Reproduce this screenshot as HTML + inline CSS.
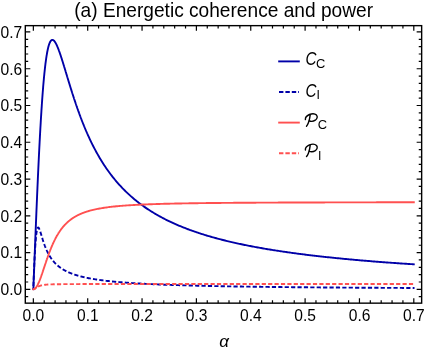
<!DOCTYPE html>
<html><head><meta charset="utf-8"><title>chart</title>
<style>
html,body{margin:0;padding:0;background:#fff;}
svg{display:block;font-family:"Liberation Sans",sans-serif;will-change:transform;}
</style></head><body>
<svg width="425" height="351" viewBox="0 0 425 351">
<rect width="425" height="351" fill="#fff"/>
<g fill="none" stroke-linejoin="round">
<path d="M33.35,289.20 L33.49,285.70 L33.62,282.19 L33.76,278.69 L33.89,275.19 L34.03,271.69 L34.17,268.19 L34.30,264.70 L34.44,261.22 L34.58,257.74 L34.71,254.27 L34.85,250.81 L34.98,247.35 L35.12,243.91 L35.26,240.48 L35.39,237.07 L35.53,233.66 L35.67,230.28 L35.80,226.90 L35.94,223.55 L36.07,220.21 L36.21,216.89 L36.35,213.59 L36.48,210.31 L36.62,207.06 L36.76,203.82 L36.89,200.61 L37.03,197.42 L37.16,194.26 L37.30,191.12 L37.44,188.01 L37.57,184.92 L37.71,181.86 L37.85,178.83 L37.98,175.83 L38.12,172.86 L38.25,169.92 L38.39,167.01 L38.53,164.12 L38.66,161.28 L38.80,158.46 L38.93,155.67 L39.07,152.92 L39.21,150.21 L39.34,147.52 L39.48,144.87 L39.62,142.26 L39.75,139.67 L39.89,137.13 L40.02,134.62 L40.16,132.14 L40.30,129.71 L40.43,127.30 L40.57,124.94 L40.71,122.61 L40.84,120.31 L40.98,118.06 L41.11,115.84 L41.25,113.65 L41.39,111.50 L41.52,109.39 L41.66,107.32 L41.80,105.28 L41.93,103.29 L42.07,101.32 L42.20,99.40 L42.34,97.51 L42.48,95.65 L42.61,93.84 L42.75,92.05 L42.89,90.31 L43.02,88.60 L43.16,86.93 L43.29,85.29 L43.43,83.69 L43.57,82.12 L43.70,80.59 L43.84,79.09 L43.97,77.63 L44.11,76.20 L44.25,74.80 L44.38,73.44 L44.52,72.11 L44.66,70.81 L44.79,69.55 L44.93,68.32 L45.06,67.12 L45.20,65.95 L45.34,64.82 L45.47,63.71 L45.61,62.64 L45.75,61.59 L45.88,60.58 L46.02,59.59 L46.15,58.64 L46.29,57.71 L46.43,56.81 L46.56,55.94 L46.70,55.10 L46.84,54.29 L46.97,53.50 L47.11,52.74 L47.24,52.00 L47.38,51.29 L47.52,50.61 L47.65,49.95 L47.79,49.32 L47.93,48.71 L48.06,48.12 L48.20,47.56 L48.33,47.02 L48.47,46.51 L48.61,46.02 L48.74,45.54 L48.88,45.09 L49.01,44.67 L49.15,44.26 L49.29,43.87 L49.42,43.51 L49.56,43.16 L49.70,42.84 L49.83,42.53 L49.97,42.24 L50.10,41.97 L50.24,41.72 L50.38,41.49 L50.51,41.27 L50.65,41.07 L50.79,40.89 L50.92,40.72 L51.06,40.57 L51.19,40.44 L51.33,40.32 L51.47,40.22 L51.60,40.13 L51.74,40.06 L51.88,40.00 L52.01,39.96 L52.15,39.93 L52.28,39.91 L52.42,39.90 L52.56,39.91 L52.69,39.94 L52.83,39.97 L52.97,40.02 L53.10,40.07 L53.24,40.14 L53.37,40.22 L53.51,40.32 L53.65,40.42 L53.78,40.53 L53.92,40.65 L54.05,40.79 L54.19,40.93 L54.33,41.09 L54.46,41.25 L54.60,41.42 L54.74,41.60 L54.87,41.79 L55.01,41.99 L55.14,42.19 L55.28,42.41 L55.42,42.63 L55.55,42.86 L55.69,43.10 L55.83,43.35 L55.96,43.60 L56.10,43.86 L56.23,44.12 L56.37,44.40 L56.51,44.68 L56.64,44.96 L56.78,45.25 L56.92,45.55 L57.05,45.85 L57.19,46.16 L57.32,46.48 L57.46,46.80 L57.60,47.12 L57.73,47.45 L57.87,47.79 L58.01,48.13 L58.14,48.47 L58.28,48.82 L58.41,49.17 L58.55,49.53 L58.69,49.89 L58.82,50.26 L58.96,50.63 L59.09,51.00 L59.23,51.38 L59.37,51.76 L59.50,52.14 L59.64,52.53 L59.78,52.92 L59.91,53.31 L60.05,53.71 L60.18,54.10 L60.32,54.51 L60.46,54.91 L60.59,55.32 L60.73,55.73 L60.87,56.14 L61.00,56.55 L61.14,56.97 L61.27,57.39 L61.41,57.81 L61.55,58.23 L61.68,58.65 L61.82,59.08 L61.96,59.51 L62.09,59.94 L62.23,60.37 L62.36,60.80 L62.50,61.23 L62.64,61.67 L62.77,62.10 L62.91,62.54 L63.04,62.98 L63.18,63.42 L63.32,63.86 L63.45,64.30 L63.59,64.75 L63.73,65.19 L63.86,65.63 L64.00,66.08 L64.13,66.53 L64.27,66.97 L64.41,67.42 L64.54,67.87 L64.68,68.32 L64.82,68.77 L64.95,69.21 L65.09,69.66 L65.22,70.11 L65.36,70.56 L65.50,71.01 L65.63,71.47 L65.77,71.92 L65.91,72.37 L66.04,72.82 L66.18,73.27 L66.31,73.72 L66.45,74.17 L66.59,74.62 L66.72,75.07 L66.86,75.52 L67.00,75.97 L67.13,76.43 L67.27,76.88 L67.40,77.33 L67.54,77.77 L67.68,78.22 L67.81,78.67 L67.95,79.12 L68.08,79.57 L68.22,80.02 L68.36,80.47 L68.49,80.91 L68.63,81.36 L68.77,81.81 L68.90,82.25 L69.04,82.70 L69.17,83.14 L69.31,83.58 L69.45,84.03 L69.58,84.47 L69.72,84.91 L69.86,85.35 L69.99,85.79 L70.13,86.23 L70.26,86.67 L70.40,87.11 L70.54,87.55 L70.67,87.98 L70.81,88.42 L70.95,88.86 L71.08,89.29 L71.22,89.72 L71.35,90.16 L71.49,90.59 L71.63,91.02 L71.76,91.45 L71.90,91.88 L72.04,92.31 L72.17,92.74 L72.31,93.16 L72.44,93.59 L72.58,94.01 L72.72,94.44 L72.85,94.86 L72.99,95.28 L73.12,95.70 L73.26,96.12 L73.40,96.54 L73.53,96.96 L73.67,97.38 L73.81,97.79 L73.94,98.21 L74.08,98.62 L74.21,99.04 L74.35,99.45 L74.49,99.86 L74.62,100.27 L74.76,100.68 L74.90,101.09 L75.03,101.49 L75.17,101.90 L75.30,102.30 L75.44,102.71 L75.58,103.11 L75.71,103.51 L75.85,103.91 L75.99,104.31 L76.12,104.71 L76.26,105.10 L76.39,105.50 L76.53,105.90 L76.67,106.29 L76.80,106.68 L76.94,107.07 L77.08,107.46 L77.21,107.85 L77.35,108.24 L77.48,108.63 L77.62,109.01 L77.76,109.40 L77.89,109.78 L78.03,110.17 L78.16,110.55 L78.30,110.93 L78.44,111.31 L78.57,111.69 L78.71,112.06 L78.85,112.44 L78.98,112.81 L79.12,113.19 L79.25,113.56 L79.39,113.93 L79.53,114.30 L79.66,114.67 L79.80,115.04 L79.94,115.41 L80.07,115.77 L80.21,116.14 L80.34,116.50 L80.48,116.86 L80.62,117.22 L80.75,117.58 L80.89,117.94 L81.03,118.30 L81.16,118.66 L81.30,119.01 L81.43,119.37 L81.57,119.72 L81.71,120.07 L81.84,120.43 L81.98,120.78 L82.12,121.13 L82.25,121.47 L82.39,121.82 L82.52,122.17 L82.66,122.51 L82.80,122.85 L82.93,123.20 L83.07,123.54 L83.20,123.88 L83.34,124.22 L83.48,124.56 L83.61,124.89 L83.75,125.23 L83.89,125.57 L84.02,125.90 L84.16,126.23 L84.29,126.56 L84.43,126.89 L84.57,127.22 L84.70,127.55 L84.84,127.88 L84.98,128.21 L85.11,128.53 L85.25,128.86 L85.38,129.18 L85.52,129.50 L85.66,129.82 L85.79,130.14 L85.93,130.46 L86.07,130.78 L86.20,131.10 L86.34,131.41 L86.47,131.73 L86.61,132.04 L86.75,132.36 L86.88,132.67 L87.02,132.98 L87.16,133.29 L87.29,133.60 L87.43,133.91 L87.56,134.21 L87.70,134.52 L88.79,136.93 L89.88,139.29 L90.97,141.58 L92.06,143.81 L93.15,145.98 L94.24,148.10 L95.33,150.17 L96.43,152.18 L97.52,154.14 L98.61,156.06 L99.70,157.92 L100.79,159.74 L101.88,161.51 L102.97,163.24 L104.06,164.93 L105.15,166.58 L106.24,168.18 L107.33,169.75 L108.42,171.28 L109.51,172.78 L110.60,174.24 L111.69,175.67 L112.78,177.06 L113.88,178.42 L114.97,179.75 L116.06,181.06 L117.15,182.33 L118.24,183.57 L119.33,184.79 L120.42,185.98 L121.51,187.15 L122.60,188.29 L123.69,189.41 L124.78,190.50 L125.87,191.57 L126.96,192.62 L128.05,193.65 L129.14,194.66 L130.23,195.64 L131.33,196.61 L132.42,197.56 L133.51,198.49 L134.60,199.40 L135.69,200.29 L136.78,201.17 L137.87,202.03 L138.96,202.88 L140.05,203.70 L141.14,204.52 L142.23,205.32 L143.32,206.10 L144.41,206.87 L145.50,207.63 L146.59,208.37 L147.68,209.10 L148.78,209.81 L149.87,210.52 L150.96,211.21 L152.05,211.89 L153.14,212.56 L154.23,213.22 L155.32,213.87 L156.41,214.50 L157.50,215.13 L158.59,215.74 L159.68,216.35 L160.77,216.94 L161.86,217.53 L162.95,218.11 L164.04,218.67 L165.14,219.23 L166.23,219.78 L167.32,220.33 L168.41,220.86 L169.50,221.39 L170.59,221.90 L171.68,222.41 L172.77,222.91 L173.86,223.41 L174.95,223.90 L176.04,224.38 L177.13,224.85 L178.22,225.32 L179.31,225.78 L180.40,226.23 L181.49,226.68 L182.59,227.12 L183.68,227.56 L184.77,227.99 L185.86,228.41 L186.95,228.83 L188.04,229.24 L189.13,229.64 L190.22,230.04 L191.31,230.44 L192.40,230.83 L193.49,231.21 L194.58,231.59 L195.67,231.97 L196.76,232.34 L197.85,232.71 L198.94,233.07 L200.04,233.42 L201.13,233.78 L202.22,234.12 L203.31,234.47 L204.40,234.81 L205.49,235.14 L206.58,235.47 L207.67,235.80 L208.76,236.12 L209.85,236.44 L210.94,236.75 L212.03,237.07 L213.12,237.37 L214.21,237.68 L215.30,237.98 L216.39,238.28 L217.49,238.57 L218.58,238.86 L219.67,239.15 L220.76,239.43 L221.85,239.71 L222.94,239.99 L224.03,240.26 L225.12,240.53 L226.21,240.80 L227.30,241.07 L228.39,241.33 L229.48,241.59 L230.57,241.85 L231.66,242.10 L232.75,242.35 L233.85,242.60 L234.94,242.85 L236.03,243.09 L237.12,243.33 L238.21,243.57 L239.30,243.81 L240.39,244.04 L241.48,244.27 L242.57,244.50 L243.66,244.73 L244.75,244.95 L245.84,245.17 L246.93,245.39 L248.02,245.61 L249.11,245.83 L250.20,246.04 L251.30,246.25 L252.39,246.46 L253.48,246.67 L254.57,246.87 L255.66,247.08 L256.75,247.28 L257.84,247.48 L258.93,247.67 L260.02,247.87 L261.11,248.06 L262.20,248.25 L263.29,248.44 L264.38,248.63 L265.47,248.82 L266.56,249.00 L267.65,249.19 L268.75,249.37 L269.84,249.55 L270.93,249.73 L272.02,249.90 L273.11,250.08 L274.20,250.25 L275.29,250.42 L276.38,250.59 L277.47,250.76 L278.56,250.93 L279.65,251.10 L280.74,251.26 L281.83,251.42 L282.92,251.59 L284.01,251.75 L285.11,251.90 L286.20,252.06 L287.29,252.22 L288.38,252.37 L289.47,252.53 L290.56,252.68 L291.65,252.83 L292.74,252.98 L293.83,253.13 L294.92,253.28 L296.01,253.42 L297.10,253.57 L298.19,253.71 L299.28,253.85 L300.37,254.00 L301.46,254.14 L302.56,254.27 L303.65,254.41 L304.74,254.55 L305.83,254.69 L306.92,254.82 L308.01,254.95 L309.10,255.09 L310.19,255.22 L311.28,255.35 L312.37,255.48 L313.46,255.61 L314.55,255.74 L315.64,255.86 L316.73,255.99 L317.82,256.11 L318.91,256.24 L320.01,256.36 L321.10,256.48 L322.19,256.60 L323.28,256.72 L324.37,256.84 L325.46,256.96 L326.55,257.08 L327.64,257.19 L328.73,257.31 L329.82,257.43 L330.91,257.54 L332.00,257.65 L333.09,257.77 L334.18,257.88 L335.27,257.99 L336.36,258.10 L337.46,258.21 L338.55,258.32 L339.64,258.42 L340.73,258.53 L341.82,258.64 L342.91,258.74 L344.00,258.85 L345.09,258.95 L346.18,259.06 L347.27,259.16 L348.36,259.26 L349.45,259.36 L350.54,259.46 L351.63,259.56 L352.72,259.66 L353.82,259.76 L354.91,259.86 L356.00,259.95 L357.09,260.05 L358.18,260.15 L359.27,260.24 L360.36,260.34 L361.45,260.43 L362.54,260.52 L363.63,260.62 L364.72,260.71 L365.81,260.80 L366.90,260.89 L367.99,260.98 L369.08,261.07 L370.17,261.16 L371.27,261.25 L372.36,261.34 L373.45,261.43 L374.54,261.51 L375.63,261.60 L376.72,261.68 L377.81,261.77 L378.90,261.85 L379.99,261.94 L381.08,262.02 L382.17,262.11 L383.26,262.19 L384.35,262.27 L385.44,262.35 L386.53,262.43 L387.62,262.51 L388.72,262.60 L389.81,262.67 L390.90,262.75 L391.99,262.83 L393.08,262.91 L394.17,262.99 L395.26,263.07 L396.35,263.14 L397.44,263.22 L398.53,263.30 L399.62,263.37 L400.71,263.45 L401.80,263.52 L402.89,263.60 L403.98,263.67 L405.07,263.74 L406.17,263.82 L407.26,263.89 L408.35,263.96 L409.44,264.03 L410.53,264.10 L411.62,264.17 L412.71,264.24 L413.80,264.31" stroke="#0000a8" stroke-width="1.9" stroke-linecap="square"/>
<path d="M33.35,289.20 L33.49,284.12 L33.62,280.26 L33.76,276.73 L33.89,273.40 L34.03,270.22 L34.17,267.16 L34.30,264.21 L34.44,261.37 L34.58,258.64 L34.71,256.02 L34.85,253.51 L34.98,251.12 L35.12,248.84 L35.26,246.69 L35.39,244.65 L35.53,242.75 L35.67,240.96 L35.80,239.31 L35.94,237.78 L36.07,236.37 L36.21,235.08 L36.35,233.91 L36.48,232.86 L36.62,231.91 L36.76,231.08 L36.89,230.34 L37.03,229.71 L37.16,229.16 L37.30,228.71 L37.44,228.33 L37.57,228.04 L37.71,227.82 L37.85,227.66 L37.98,227.56 L38.12,227.53 L38.25,227.54 L38.39,227.61 L38.53,227.72 L38.66,227.87 L38.80,228.06 L38.93,228.28 L39.07,228.53 L39.21,228.81 L39.34,229.12 L39.48,229.44 L39.62,229.79 L39.75,230.15 L39.89,230.53 L40.02,230.92 L40.16,231.32 L40.30,231.73 L40.43,232.16 L40.57,232.58 L40.71,233.02 L40.84,233.46 L40.98,233.90 L41.11,234.34 L41.25,234.79 L41.39,235.24 L41.52,235.69 L41.66,236.14 L41.80,236.58 L41.93,237.03 L42.07,237.48 L42.20,237.92 L42.34,238.36 L42.48,238.79 L42.61,239.23 L42.75,239.66 L42.89,240.09 L43.02,240.51 L43.16,240.93 L43.29,241.34 L43.43,241.76 L43.57,242.16 L43.70,242.56 L43.84,242.96 L43.97,243.36 L44.11,243.74 L44.25,244.13 L44.38,244.51 L44.52,244.88 L44.66,245.25 L44.79,245.62 L44.93,245.98 L45.06,246.34 L45.20,246.69 L45.34,247.04 L45.47,247.38 L45.61,247.72 L45.75,248.05 L45.88,248.38 L46.02,248.70 L46.15,249.03 L46.29,249.34 L46.43,249.65 L46.56,249.96 L46.70,250.27 L46.84,250.57 L46.97,250.86 L47.11,251.15 L47.24,251.44 L47.38,251.73 L47.52,252.01 L47.65,252.28 L47.79,252.56 L47.93,252.82 L48.06,253.09 L48.20,253.35 L48.33,253.61 L48.47,253.87 L48.61,254.12 L48.74,254.37 L48.88,254.61 L49.01,254.86 L49.15,255.09 L49.29,255.33 L49.42,255.56 L49.56,255.79 L49.70,256.02 L49.83,256.25 L49.97,256.47 L50.10,256.69 L50.24,256.90 L50.38,257.11 L50.51,257.32 L50.65,257.53 L50.79,257.74 L50.92,257.94 L51.06,258.14 L51.19,258.34 L51.33,258.53 L51.47,258.73 L51.60,258.92 L51.74,259.11 L51.88,259.29 L52.01,259.48 L52.15,259.66 L52.28,259.84 L52.42,260.02 L52.56,260.19 L52.69,260.37 L52.83,260.54 L52.97,260.71 L53.10,260.88 L53.24,261.04 L53.37,261.21 L53.51,261.37 L53.65,261.53 L53.78,261.69 L53.92,261.84 L54.05,262.00 L54.19,262.15 L54.33,262.30 L54.46,262.45 L54.60,262.60 L54.74,262.75 L54.87,262.89 L55.01,263.04 L55.14,263.18 L55.28,263.32 L55.42,263.46 L55.55,263.60 L55.69,263.73 L55.83,263.87 L55.96,264.00 L56.10,264.13 L56.23,264.26 L56.37,264.39 L56.51,264.52 L56.64,264.65 L56.78,264.77 L56.92,264.90 L57.05,265.02 L57.19,265.14 L57.32,265.26 L57.46,265.38 L57.60,265.50 L57.73,265.62 L57.87,265.73 L58.01,265.85 L58.14,265.96 L58.28,266.07 L58.41,266.18 L58.55,266.29 L58.69,266.40 L58.82,266.51 L58.96,266.62 L59.09,266.73 L59.23,266.83 L59.37,266.94 L59.50,267.04 L59.64,267.14 L59.78,267.24 L59.91,267.34 L60.05,267.44 L60.18,267.54 L60.32,267.64 L60.46,267.74 L60.59,267.83 L60.73,267.93 L60.87,268.02 L61.00,268.12 L61.14,268.21 L61.27,268.30 L61.41,268.39 L61.55,268.48 L61.68,268.57 L61.82,268.66 L61.96,268.75 L62.09,268.84 L62.23,268.93 L62.36,269.01 L62.50,269.10 L62.64,269.18 L62.77,269.27 L62.91,269.35 L63.04,269.43 L63.18,269.51 L63.32,269.59 L63.45,269.68 L63.59,269.76 L63.73,269.83 L63.86,269.91 L64.00,269.99 L64.13,270.07 L64.27,270.15 L64.41,270.22 L64.54,270.30 L64.68,270.37 L64.82,270.45 L64.95,270.52 L65.09,270.59 L65.22,270.67 L65.36,270.74 L65.50,270.81 L65.63,270.88 L65.77,270.95 L65.91,271.02 L66.04,271.09 L66.18,271.16 L66.31,271.23 L66.45,271.30 L66.59,271.36 L66.72,271.43 L66.86,271.50 L67.00,271.56 L67.13,271.63 L67.27,271.69 L67.40,271.76 L67.54,271.82 L67.68,271.88 L67.81,271.95 L67.95,272.01 L68.08,272.07 L68.22,272.13 L68.36,272.20 L68.49,272.26 L68.63,272.32 L68.77,272.38 L68.90,272.44 L69.04,272.50 L69.17,272.55 L69.31,272.61 L69.45,272.67 L69.58,272.73 L69.72,272.79 L69.86,272.84 L69.99,272.90 L70.13,272.96 L70.26,273.01 L70.40,273.07 L70.54,273.12 L70.67,273.18 L70.81,273.23 L70.95,273.28 L71.08,273.34 L71.22,273.39 L71.35,273.44 L71.49,273.50 L71.63,273.55 L71.76,273.60 L71.90,273.65 L72.04,273.70 L72.17,273.75 L72.31,273.80 L72.44,273.85 L72.58,273.90 L72.72,273.95 L72.85,274.00 L72.99,274.05 L73.12,274.10 L73.26,274.15 L73.40,274.20 L73.53,274.24 L73.67,274.29 L73.81,274.34 L73.94,274.38 L74.08,274.43 L74.21,274.48 L74.35,274.52 L74.49,274.57 L74.62,274.61 L74.76,274.66 L74.90,274.70 L75.03,274.75 L75.17,274.79 L75.30,274.84 L75.44,274.88 L75.58,274.92 L75.71,274.97 L75.85,275.01 L75.99,275.05 L76.12,275.10 L76.26,275.14 L76.39,275.18 L76.53,275.22 L76.67,275.26 L76.80,275.31 L76.94,275.35 L77.08,275.39 L77.21,275.43 L77.35,275.47 L77.48,275.51 L77.62,275.55 L77.76,275.59 L77.89,275.63 L78.03,275.67 L78.16,275.71 L78.30,275.74 L78.44,275.78 L78.57,275.82 L78.71,275.86 L78.85,275.90 L78.98,275.94 L79.12,275.97 L79.25,276.01 L79.39,276.05 L79.53,276.08 L79.66,276.12 L79.80,276.16 L79.94,276.19 L80.07,276.23 L80.21,276.27 L80.34,276.30 L80.48,276.34 L80.62,276.37 L80.75,276.41 L80.89,276.44 L81.03,276.48 L81.16,276.51 L81.30,276.55 L81.43,276.58 L81.57,276.62 L81.71,276.65 L81.84,276.68 L81.98,276.72 L82.12,276.75 L82.25,276.78 L82.39,276.82 L82.52,276.85 L82.66,276.88 L82.80,276.91 L82.93,276.95 L83.07,276.98 L83.20,277.01 L83.34,277.04 L83.48,277.07 L83.61,277.11 L83.75,277.14 L83.89,277.17 L84.02,277.20 L84.16,277.23 L84.29,277.26 L84.43,277.29 L84.57,277.32 L84.70,277.35 L84.84,277.38 L84.98,277.41 L85.11,277.44 L85.25,277.47 L85.38,277.50 L85.52,277.53 L85.66,277.56 L85.79,277.59 L85.93,277.62 L86.07,277.65 L86.20,277.68 L86.34,277.71 L86.47,277.74 L86.61,277.76 L86.75,277.79 L86.88,277.82 L87.02,277.85 L87.16,277.88 L87.29,277.90 L87.43,277.93 L87.56,277.96 L87.70,277.99 L88.79,278.20 L89.89,278.41 L90.98,278.61 L92.07,278.80 L93.16,278.99 L94.26,279.17 L95.35,279.34 L96.44,279.51 L97.54,279.67 L98.63,279.83 L99.72,279.99 L100.82,280.13 L101.91,280.28 L103.00,280.42 L104.09,280.56 L105.19,280.69 L106.28,280.82 L107.37,280.94 L108.47,281.06 L109.56,281.18 L110.65,281.30 L111.75,281.41 L112.84,281.52 L113.93,281.62 L115.02,281.73 L116.12,281.83 L117.21,281.93 L118.30,282.02 L119.40,282.12 L120.49,282.21 L121.58,282.30 L122.68,282.39 L123.77,282.47 L124.86,282.56 L125.95,282.64 L127.05,282.72 L128.14,282.80 L129.23,282.87 L130.33,282.95 L131.42,283.02 L132.51,283.09 L133.61,283.16 L134.70,283.23 L135.79,283.30 L136.88,283.37 L137.98,283.43 L139.07,283.50 L140.16,283.56 L141.26,283.62 L142.35,283.68 L143.44,283.74 L144.54,283.80 L145.63,283.85 L146.72,283.91 L147.81,283.96 L148.91,284.02 L150.00,284.07 L151.09,284.12 L152.19,284.17 L153.28,284.22 L154.37,284.27 L155.47,284.32 L156.56,284.37 L157.65,284.41 L158.74,284.46 L159.84,284.50 L160.93,284.55 L162.02,284.59 L163.12,284.63 L164.21,284.68 L165.30,284.72 L166.40,284.76 L167.49,284.80 L168.58,284.84 L169.67,284.88 L170.77,284.92 L171.86,284.95 L172.95,284.99 L174.05,285.03 L175.14,285.06 L176.23,285.10 L177.33,285.13 L178.42,285.17 L179.51,285.20 L180.60,285.24 L181.70,285.27 L182.79,285.30 L183.88,285.33 L184.98,285.37 L186.07,285.40 L187.16,285.43 L188.26,285.46 L189.35,285.49 L190.44,285.52 L191.53,285.55 L192.63,285.58 L193.72,285.60 L194.81,285.63 L195.91,285.66 L197.00,285.69 L198.09,285.71 L199.19,285.74 L200.28,285.77 L201.37,285.79 L202.46,285.82 L203.56,285.84 L204.65,285.87 L205.74,285.89 L206.84,285.92 L207.93,285.94 L209.02,285.97 L210.12,285.99 L211.21,286.01 L212.30,286.03 L213.39,286.06 L214.49,286.08 L215.58,286.10 L216.67,286.12 L217.77,286.14 L218.86,286.17 L219.95,286.19 L221.05,286.21 L222.14,286.23 L223.23,286.25 L224.32,286.27 L225.42,286.29 L226.51,286.31 L227.60,286.33 L228.70,286.35 L229.79,286.37 L230.88,286.38 L231.98,286.40 L233.07,286.42 L234.16,286.44 L235.25,286.46 L236.35,286.47 L237.44,286.49 L238.53,286.51 L239.63,286.53 L240.72,286.54 L241.81,286.56 L242.91,286.58 L244.00,286.59 L245.09,286.61 L246.18,286.63 L247.28,286.64 L248.37,286.66 L249.46,286.67 L250.56,286.69 L251.65,286.70 L252.74,286.72 L253.84,286.73 L254.93,286.75 L256.02,286.76 L257.11,286.78 L258.21,286.79 L259.30,286.81 L260.39,286.82 L261.49,286.84 L262.58,286.85 L263.67,286.86 L264.77,286.88 L265.86,286.89 L266.95,286.90 L268.04,286.92 L269.14,286.93 L270.23,286.94 L271.32,286.96 L272.42,286.97 L273.51,286.98 L274.60,286.99 L275.70,287.01 L276.79,287.02 L277.88,287.03 L278.97,287.04 L280.07,287.05 L281.16,287.07 L282.25,287.08 L283.35,287.09 L284.44,287.10 L285.53,287.11 L286.63,287.12 L287.72,287.13 L288.81,287.15 L289.90,287.16 L291.00,287.17 L292.09,287.18 L293.18,287.19 L294.28,287.20 L295.37,287.21 L296.46,287.22 L297.56,287.23 L298.65,287.24 L299.74,287.25 L300.83,287.26 L301.93,287.27 L303.02,287.28 L304.11,287.29 L305.21,287.30 L306.30,287.31 L307.39,287.32 L308.49,287.33 L309.58,287.34 L310.67,287.35 L311.76,287.36 L312.86,287.37 L313.95,287.38 L315.04,287.39 L316.14,287.39 L317.23,287.40 L318.32,287.41 L319.42,287.42 L320.51,287.43 L321.60,287.44 L322.69,287.45 L323.79,287.46 L324.88,287.46 L325.97,287.47 L327.07,287.48 L328.16,287.49 L329.25,287.50 L330.35,287.50 L331.44,287.51 L332.53,287.52 L333.62,287.53 L334.72,287.54 L335.81,287.54 L336.90,287.55 L338.00,287.56 L339.09,287.57 L340.18,287.58 L341.28,287.58 L342.37,287.59 L343.46,287.60 L344.55,287.60 L345.65,287.61 L346.74,287.62 L347.83,287.63 L348.93,287.63 L350.02,287.64 L351.11,287.65 L352.21,287.65 L353.30,287.66 L354.39,287.67 L355.48,287.68 L356.58,287.68 L357.67,287.69 L358.76,287.70 L359.86,287.70 L360.95,287.71 L362.04,287.72 L363.14,287.72 L364.23,287.73 L365.32,287.73 L366.41,287.74 L367.51,287.75 L368.60,287.75 L369.69,287.76 L370.79,287.77 L371.88,287.77 L372.97,287.78 L374.07,287.78 L375.16,287.79 L376.25,287.80 L377.34,287.80 L378.44,287.81 L379.53,287.81 L380.62,287.82 L381.72,287.83 L382.81,287.83 L383.90,287.84 L385.00,287.84 L386.09,287.85 L387.18,287.85 L388.27,287.86 L389.37,287.86 L390.46,287.87 L391.55,287.88 L392.65,287.88 L393.74,287.89 L394.83,287.89 L395.93,287.90 L397.02,287.90 L398.11,287.91 L399.20,287.91 L400.30,287.92 L401.39,287.92 L402.48,287.93 L403.58,287.93 L404.67,287.94 L405.76,287.94 L406.86,287.95 L407.95,287.95 L409.04,287.96 L410.13,287.96 L411.23,287.97 L412.32,287.97 L413.41,287.98 L414.51,287.98" stroke="#0000a8" stroke-width="1.9" stroke-dasharray="4.2 2.2" stroke-dashoffset="3.3"/>
<path d="M33.35,289.20 L33.49,289.20 L33.62,289.18 L33.76,289.16 L33.89,289.13 L34.03,289.09 L34.17,289.03 L34.30,288.98 L34.44,288.91 L34.58,288.83 L34.71,288.74 L34.85,288.65 L34.98,288.54 L35.12,288.43 L35.26,288.31 L35.39,288.18 L35.53,288.04 L35.67,287.89 L35.80,287.73 L35.94,287.57 L36.07,287.40 L36.21,287.22 L36.35,287.03 L36.48,286.83 L36.62,286.63 L36.76,286.42 L36.89,286.20 L37.03,285.97 L37.16,285.74 L37.30,285.49 L37.44,285.25 L37.57,284.99 L37.71,284.73 L37.85,284.46 L37.98,284.19 L38.12,283.90 L38.25,283.62 L38.39,283.32 L38.53,283.03 L38.66,282.72 L38.80,282.41 L38.93,282.09 L39.07,281.77 L39.21,281.45 L39.34,281.12 L39.48,280.78 L39.62,280.44 L39.75,280.10 L39.89,279.75 L40.02,279.39 L40.16,279.04 L40.30,278.68 L40.43,278.31 L40.57,277.94 L40.71,277.57 L40.84,277.20 L40.98,276.82 L41.11,276.44 L41.25,276.05 L41.39,275.67 L41.52,275.28 L41.66,274.89 L41.80,274.49 L41.93,274.10 L42.07,273.70 L42.20,273.30 L42.34,272.90 L42.48,272.50 L42.61,272.10 L42.75,271.69 L42.89,271.29 L43.02,270.88 L43.16,270.47 L43.29,270.06 L43.43,269.65 L43.57,269.24 L43.70,268.83 L43.84,268.42 L43.97,268.01 L44.11,267.60 L44.25,267.19 L44.38,266.78 L44.52,266.36 L44.66,265.95 L44.79,265.54 L44.93,265.13 L45.06,264.72 L45.20,264.31 L45.34,263.91 L45.47,263.50 L45.61,263.09 L45.75,262.69 L45.88,262.28 L46.02,261.88 L46.15,261.47 L46.29,261.07 L46.43,260.67 L46.56,260.27 L46.70,259.88 L46.84,259.48 L46.97,259.08 L47.11,258.69 L47.24,258.30 L47.38,257.91 L47.52,257.52 L47.65,257.13 L47.79,256.75 L47.93,256.36 L48.06,255.98 L48.20,255.60 L48.33,255.23 L48.47,254.85 L48.61,254.48 L48.74,254.10 L48.88,253.73 L49.01,253.37 L49.15,253.00 L49.29,252.64 L49.42,252.27 L49.56,251.91 L49.70,251.56 L49.83,251.20 L49.97,250.85 L50.10,250.50 L50.24,250.15 L50.38,249.80 L50.51,249.46 L50.65,249.12 L50.79,248.78 L50.92,248.44 L51.06,248.10 L51.19,247.77 L51.33,247.44 L51.47,247.11 L51.60,246.79 L51.74,246.46 L51.88,246.14 L52.01,245.82 L52.15,245.51 L52.28,245.19 L52.42,244.88 L52.56,244.57 L52.69,244.26 L52.83,243.96 L52.97,243.65 L53.10,243.35 L53.24,243.05 L53.37,242.76 L53.51,242.46 L53.65,242.17 L53.78,241.88 L53.92,241.59 L54.05,241.31 L54.19,241.03 L54.33,240.75 L54.46,240.47 L54.60,240.19 L54.74,239.92 L54.87,239.65 L55.01,239.38 L55.14,239.11 L55.28,238.85 L55.42,238.58 L55.55,238.32 L55.69,238.06 L55.83,237.81 L55.96,237.55 L56.10,237.30 L56.23,237.05 L56.37,236.80 L56.51,236.55 L56.64,236.31 L56.78,236.07 L56.92,235.83 L57.05,235.59 L57.19,235.35 L57.32,235.12 L57.46,234.89 L57.60,234.66 L57.73,234.43 L57.87,234.20 L58.01,233.98 L58.14,233.76 L58.28,233.54 L58.41,233.32 L58.55,233.10 L58.69,232.88 L58.82,232.67 L58.96,232.46 L59.09,232.25 L59.23,232.04 L59.37,231.84 L59.50,231.63 L59.64,231.43 L59.78,231.23 L59.91,231.03 L60.05,230.83 L60.18,230.64 L60.32,230.44 L60.46,230.25 L60.59,230.06 L60.73,229.87 L60.87,229.68 L61.00,229.50 L61.14,229.31 L61.27,229.13 L61.41,228.95 L61.55,228.77 L61.68,228.59 L61.82,228.41 L61.96,228.24 L62.09,228.06 L62.23,227.89 L62.36,227.72 L62.50,227.55 L62.64,227.38 L62.77,227.22 L62.91,227.05 L63.04,226.89 L63.18,226.73 L63.32,226.57 L63.45,226.41 L63.59,226.25 L63.73,226.09 L63.86,225.94 L64.00,225.78 L64.13,225.63 L64.27,225.48 L64.41,225.33 L64.54,225.18 L64.68,225.03 L64.82,224.89 L64.95,224.74 L65.09,224.60 L65.22,224.45 L65.36,224.31 L65.50,224.17 L65.63,224.03 L65.77,223.89 L65.91,223.76 L66.04,223.62 L66.18,223.49 L66.31,223.35 L66.45,223.22 L66.59,223.09 L66.72,222.96 L66.86,222.83 L67.00,222.70 L67.13,222.57 L67.27,222.45 L67.40,222.32 L67.54,222.20 L67.68,222.08 L67.81,221.96 L67.95,221.83 L68.08,221.71 L68.22,221.60 L68.36,221.48 L68.49,221.36 L68.63,221.25 L68.77,221.13 L68.90,221.02 L69.04,220.90 L69.17,220.79 L69.31,220.68 L69.45,220.57 L69.58,220.46 L69.72,220.35 L69.86,220.24 L69.99,220.14 L70.13,220.03 L70.26,219.92 L70.40,219.82 L70.54,219.72 L70.67,219.61 L70.81,219.51 L70.95,219.41 L71.08,219.31 L71.22,219.21 L71.35,219.11 L71.49,219.01 L71.63,218.92 L71.76,218.82 L71.90,218.73 L72.04,218.63 L72.17,218.54 L72.31,218.44 L72.44,218.35 L72.58,218.26 L72.72,218.17 L72.85,218.08 L72.99,217.99 L73.12,217.90 L73.26,217.81 L73.40,217.72 L73.53,217.64 L73.67,217.55 L73.81,217.46 L73.94,217.38 L74.08,217.29 L74.21,217.21 L74.35,217.13 L74.49,217.04 L74.62,216.96 L74.76,216.88 L74.90,216.80 L75.03,216.72 L75.17,216.64 L75.30,216.56 L75.44,216.48 L75.58,216.41 L75.71,216.33 L75.85,216.25 L75.99,216.18 L76.12,216.10 L76.26,216.03 L76.39,215.95 L76.53,215.88 L76.67,215.81 L76.80,215.73 L76.94,215.66 L77.08,215.59 L77.21,215.52 L77.35,215.45 L77.48,215.38 L77.62,215.31 L77.76,215.24 L77.89,215.17 L78.03,215.11 L78.16,215.04 L78.30,214.97 L78.44,214.90 L78.57,214.84 L78.71,214.77 L78.85,214.71 L78.98,214.64 L79.12,214.58 L79.25,214.52 L79.39,214.45 L79.53,214.39 L79.66,214.33 L79.80,214.27 L79.94,214.21 L80.07,214.14 L80.21,214.08 L80.34,214.02 L80.48,213.96 L80.62,213.90 L80.75,213.85 L80.89,213.79 L81.03,213.73 L81.16,213.67 L81.30,213.62 L81.43,213.56 L81.57,213.50 L81.71,213.45 L81.84,213.39 L81.98,213.34 L82.12,213.28 L82.25,213.23 L82.39,213.17 L82.52,213.12 L82.66,213.07 L82.80,213.01 L82.93,212.96 L83.07,212.91 L83.20,212.86 L83.34,212.80 L83.48,212.75 L83.61,212.70 L83.75,212.65 L83.89,212.60 L84.02,212.55 L84.16,212.50 L84.29,212.45 L84.43,212.40 L84.57,212.36 L84.70,212.31 L84.84,212.26 L84.98,212.21 L85.11,212.17 L85.25,212.12 L85.38,212.07 L85.52,212.03 L85.66,211.98 L85.79,211.93 L85.93,211.89 L86.07,211.84 L86.20,211.80 L86.34,211.76 L86.47,211.71 L86.61,211.67 L86.75,211.62 L86.88,211.58 L87.02,211.54 L87.16,211.49 L87.29,211.45 L87.43,211.41 L87.56,211.37 L87.70,211.33 L88.79,211.00 L89.88,210.70 L90.97,210.40 L92.06,210.12 L93.15,209.86 L94.24,209.61 L95.33,209.37 L96.43,209.14 L97.52,208.92 L98.61,208.71 L99.70,208.51 L100.79,208.31 L101.88,208.13 L102.97,207.95 L104.06,207.79 L105.15,207.62 L106.24,207.47 L107.33,207.32 L108.42,207.18 L109.51,207.04 L110.60,206.91 L111.69,206.78 L112.78,206.66 L113.88,206.54 L114.97,206.43 L116.06,206.32 L117.15,206.22 L118.24,206.12 L119.33,206.02 L120.42,205.92 L121.51,205.83 L122.60,205.75 L123.69,205.66 L124.78,205.58 L125.87,205.50 L126.96,205.42 L128.05,205.35 L129.14,205.28 L130.23,205.21 L131.33,205.14 L132.42,205.08 L133.51,205.01 L134.60,204.95 L135.69,204.89 L136.78,204.84 L137.87,204.78 L138.96,204.73 L140.05,204.67 L141.14,204.62 L142.23,204.57 L143.32,204.53 L144.41,204.48 L145.50,204.43 L146.59,204.39 L147.68,204.35 L148.78,204.30 L149.87,204.26 L150.96,204.22 L152.05,204.19 L153.14,204.15 L154.23,204.11 L155.32,204.08 L156.41,204.04 L157.50,204.01 L158.59,203.97 L159.68,203.94 L160.77,203.91 L161.86,203.88 L162.95,203.85 L164.04,203.82 L165.14,203.79 L166.23,203.77 L167.32,203.74 L168.41,203.71 L169.50,203.69 L170.59,203.66 L171.68,203.64 L172.77,203.61 L173.86,203.59 L174.95,203.57 L176.04,203.54 L177.13,203.52 L178.22,203.50 L179.31,203.48 L180.40,203.46 L181.49,203.44 L182.59,203.42 L183.68,203.40 L184.77,203.38 L185.86,203.36 L186.95,203.34 L188.04,203.33 L189.13,203.31 L190.22,203.29 L191.31,203.28 L192.40,203.26 L193.49,203.24 L194.58,203.23 L195.67,203.21 L196.76,203.20 L197.85,203.18 L198.94,203.17 L200.04,203.15 L201.13,203.14 L202.22,203.13 L203.31,203.11 L204.40,203.10 L205.49,203.09 L206.58,203.07 L207.67,203.06 L208.76,203.05 L209.85,203.04 L210.94,203.03 L212.03,203.01 L213.12,203.00 L214.21,202.99 L215.30,202.98 L216.39,202.97 L217.49,202.96 L218.58,202.95 L219.67,202.94 L220.76,202.93 L221.85,202.92 L222.94,202.91 L224.03,202.90 L225.12,202.89 L226.21,202.88 L227.30,202.87 L228.39,202.86 L229.48,202.85 L230.57,202.85 L231.66,202.84 L232.75,202.83 L233.85,202.82 L234.94,202.81 L236.03,202.80 L237.12,202.80 L238.21,202.79 L239.30,202.78 L240.39,202.77 L241.48,202.77 L242.57,202.76 L243.66,202.75 L244.75,202.75 L245.84,202.74 L246.93,202.73 L248.02,202.72 L249.11,202.72 L250.20,202.71 L251.30,202.71 L252.39,202.70 L253.48,202.69 L254.57,202.69 L255.66,202.68 L256.75,202.67 L257.84,202.67 L258.93,202.66 L260.02,202.66 L261.11,202.65 L262.20,202.65 L263.29,202.64 L264.38,202.64 L265.47,202.63 L266.56,202.62 L267.65,202.62 L268.75,202.61 L269.84,202.61 L270.93,202.60 L272.02,202.60 L273.11,202.60 L274.20,202.59 L275.29,202.59 L276.38,202.58 L277.47,202.58 L278.56,202.57 L279.65,202.57 L280.74,202.56 L281.83,202.56 L282.92,202.55 L284.01,202.55 L285.11,202.55 L286.20,202.54 L287.29,202.54 L288.38,202.53 L289.47,202.53 L290.56,202.53 L291.65,202.52 L292.74,202.52 L293.83,202.51 L294.92,202.51 L296.01,202.51 L297.10,202.50 L298.19,202.50 L299.28,202.50 L300.37,202.49 L301.46,202.49 L302.56,202.49 L303.65,202.48 L304.74,202.48 L305.83,202.48 L306.92,202.47 L308.01,202.47 L309.10,202.47 L310.19,202.46 L311.28,202.46 L312.37,202.46 L313.46,202.45 L314.55,202.45 L315.64,202.45 L316.73,202.45 L317.82,202.44 L318.91,202.44 L320.01,202.44 L321.10,202.43 L322.19,202.43 L323.28,202.43 L324.37,202.43 L325.46,202.42 L326.55,202.42 L327.64,202.42 L328.73,202.42 L329.82,202.41 L330.91,202.41 L332.00,202.41 L333.09,202.41 L334.18,202.40 L335.27,202.40 L336.36,202.40 L337.46,202.40 L338.55,202.39 L339.64,202.39 L340.73,202.39 L341.82,202.39 L342.91,202.38 L344.00,202.38 L345.09,202.38 L346.18,202.38 L347.27,202.38 L348.36,202.37 L349.45,202.37 L350.54,202.37 L351.63,202.37 L352.72,202.36 L353.82,202.36 L354.91,202.36 L356.00,202.36 L357.09,202.36 L358.18,202.35 L359.27,202.35 L360.36,202.35 L361.45,202.35 L362.54,202.35 L363.63,202.35 L364.72,202.34 L365.81,202.34 L366.90,202.34 L367.99,202.34 L369.08,202.34 L370.17,202.33 L371.27,202.33 L372.36,202.33 L373.45,202.33 L374.54,202.33 L375.63,202.33 L376.72,202.32 L377.81,202.32 L378.90,202.32 L379.99,202.32 L381.08,202.32 L382.17,202.32 L383.26,202.32 L384.35,202.31 L385.44,202.31 L386.53,202.31 L387.62,202.31 L388.72,202.31 L389.81,202.31 L390.90,202.30 L391.99,202.30 L393.08,202.30 L394.17,202.30 L395.26,202.30 L396.35,202.30 L397.44,202.30 L398.53,202.29 L399.62,202.29 L400.71,202.29 L401.80,202.29 L402.89,202.29 L403.98,202.29 L405.07,202.29 L406.17,202.29 L407.26,202.28 L408.35,202.28 L409.44,202.28 L410.53,202.28 L411.62,202.28 L412.71,202.28 L413.80,202.28" stroke="#ff5050" stroke-width="1.9" stroke-linecap="square"/>
<path d="M33.35,289.20 L33.49,289.20 L33.62,289.18 L33.76,289.16 L33.89,289.14 L34.03,289.10 L34.17,289.06 L34.30,289.01 L34.44,288.95 L34.58,288.89 L34.71,288.82 L34.85,288.75 L34.98,288.67 L35.12,288.59 L35.26,288.51 L35.39,288.42 L35.53,288.33 L35.67,288.24 L35.80,288.15 L35.94,288.06 L36.07,287.96 L36.21,287.87 L36.35,287.77 L36.48,287.68 L36.62,287.59 L36.76,287.49 L36.89,287.40 L37.03,287.31 L37.16,287.23 L37.30,287.14 L37.44,287.05 L37.57,286.97 L37.71,286.89 L37.85,286.81 L37.98,286.73 L38.12,286.66 L38.25,286.59 L38.39,286.52 L38.53,286.45 L38.66,286.38 L38.80,286.31 L38.93,286.25 L39.07,286.19 L39.21,286.13 L39.34,286.07 L39.48,286.02 L39.62,285.97 L39.75,285.91 L39.89,285.86 L40.02,285.81 L40.16,285.77 L40.30,285.72 L40.43,285.68 L40.57,285.63 L40.71,285.59 L40.84,285.55 L40.98,285.51 L41.11,285.48 L41.25,285.44 L41.39,285.41 L41.52,285.37 L41.66,285.34 L41.80,285.31 L41.93,285.28 L42.07,285.25 L42.20,285.22 L42.34,285.19 L42.48,285.16 L42.61,285.14 L42.75,285.11 L42.89,285.09 L43.02,285.06 L43.16,285.04 L43.29,285.02 L43.43,285.00 L43.57,284.97 L43.70,284.95 L43.84,284.93 L43.97,284.92 L44.11,284.90 L44.25,284.88 L44.38,284.86 L44.52,284.84 L44.66,284.83 L44.79,284.81 L44.93,284.79 L45.06,284.78 L45.20,284.76 L45.34,284.75 L45.47,284.74 L45.61,284.72 L45.75,284.71 L45.88,284.70 L46.02,284.68 L46.15,284.67 L46.29,284.66 L46.43,284.65 L46.56,284.64 L46.70,284.62 L46.84,284.61 L46.97,284.60 L47.11,284.59 L47.24,284.58 L47.38,284.57 L47.52,284.56 L47.65,284.55 L47.79,284.55 L47.93,284.54 L48.06,284.53 L48.20,284.52 L48.33,284.51 L48.47,284.50 L48.61,284.50 L48.74,284.49 L48.88,284.48 L49.01,284.47 L49.15,284.47 L49.29,284.46 L49.42,284.45 L49.56,284.45 L49.70,284.44 L49.83,284.43 L49.97,284.43 L50.10,284.42 L50.24,284.41 L50.38,284.41 L50.51,284.40 L50.65,284.40 L50.79,284.39 L50.92,284.39 L51.06,284.38 L51.19,284.38 L51.33,284.37 L51.47,284.37 L51.60,284.36 L51.74,284.36 L51.88,284.35 L52.01,284.35 L52.15,284.34 L52.28,284.34 L52.42,284.33 L52.56,284.33 L52.69,284.33 L52.83,284.32 L52.97,284.32 L53.10,284.31 L53.24,284.31 L53.37,284.31 L53.51,284.30 L53.65,284.30 L53.78,284.30 L53.92,284.29 L54.05,284.29 L54.19,284.29 L54.33,284.28 L54.46,284.28 L54.60,284.28 L54.74,284.27 L54.87,284.27 L55.01,284.27 L55.14,284.26 L55.28,284.26 L55.42,284.26 L55.55,284.26 L55.69,284.25 L55.83,284.25 L55.96,284.25 L56.10,284.24 L56.23,284.24 L56.37,284.24 L56.51,284.24 L56.64,284.23 L56.78,284.23 L56.92,284.23 L57.05,284.23 L57.19,284.23 L57.32,284.22 L57.46,284.22 L57.60,284.22 L57.73,284.22 L57.87,284.21 L58.01,284.21 L58.14,284.21 L58.28,284.21 L58.41,284.21 L58.55,284.20 L58.69,284.20 L58.82,284.20 L58.96,284.20 L59.09,284.20 L59.23,284.19 L59.37,284.19 L59.50,284.19 L59.64,284.19 L59.78,284.19 L59.91,284.19 L60.05,284.18 L60.18,284.18 L60.32,284.18 L60.46,284.18 L60.59,284.18 L60.73,284.18 L60.87,284.18 L61.00,284.17 L61.14,284.17 L61.27,284.17 L61.41,284.17 L61.55,284.17 L61.68,284.17 L61.82,284.17 L61.96,284.16 L62.09,284.16 L62.23,284.16 L62.36,284.16 L62.50,284.16 L62.64,284.16 L62.77,284.16 L62.91,284.15 L63.04,284.15 L63.18,284.15 L63.32,284.15 L63.45,284.15 L63.59,284.15 L63.73,284.15 L63.86,284.15 L64.00,284.15 L64.13,284.14 L64.27,284.14 L64.41,284.14 L64.54,284.14 L64.68,284.14 L64.82,284.14 L64.95,284.14 L65.09,284.14 L65.22,284.14 L65.36,284.14 L65.50,284.13 L65.63,284.13 L65.77,284.13 L65.91,284.13 L66.04,284.13 L66.18,284.13 L66.31,284.13 L66.45,284.13 L66.59,284.13 L66.72,284.13 L66.86,284.13 L67.00,284.12 L67.13,284.12 L67.27,284.12 L67.40,284.12 L67.54,284.12 L67.68,284.12 L67.81,284.12 L67.95,284.12 L68.08,284.12 L68.22,284.12 L68.36,284.12 L68.49,284.12 L68.63,284.11 L68.77,284.11 L68.90,284.11 L69.04,284.11 L69.17,284.11 L69.31,284.11 L69.45,284.11 L69.58,284.11 L69.72,284.11 L69.86,284.11 L69.99,284.11 L70.13,284.11 L70.26,284.11 L70.40,284.11 L70.54,284.11 L70.67,284.10 L70.81,284.10 L70.95,284.10 L71.08,284.10 L71.22,284.10 L71.35,284.10 L71.49,284.10 L71.63,284.10 L71.76,284.10 L71.90,284.10 L72.04,284.10 L72.17,284.10 L72.31,284.10 L72.44,284.10 L72.58,284.10 L72.72,284.10 L72.85,284.10 L72.99,284.10 L73.12,284.09 L73.26,284.09 L73.40,284.09 L73.53,284.09 L73.67,284.09 L73.81,284.09 L73.94,284.09 L74.08,284.09 L74.21,284.09 L74.35,284.09 L74.49,284.09 L74.62,284.09 L74.76,284.09 L74.90,284.09 L75.03,284.09 L75.17,284.09 L75.30,284.09 L75.44,284.09 L75.58,284.09 L75.71,284.09 L75.85,284.09 L75.99,284.08 L76.12,284.08 L76.26,284.08 L76.39,284.08 L76.53,284.08 L76.67,284.08 L76.80,284.08 L76.94,284.08 L77.08,284.08 L77.21,284.08 L77.35,284.08 L77.48,284.08 L77.62,284.08 L77.76,284.08 L77.89,284.08 L78.03,284.08 L78.16,284.08 L78.30,284.08 L78.44,284.08 L78.57,284.08 L78.71,284.08 L78.85,284.08 L78.98,284.08 L79.12,284.08 L79.25,284.08 L79.39,284.08 L79.53,284.08 L79.66,284.07 L79.80,284.07 L79.94,284.07 L80.07,284.07 L80.21,284.07 L80.34,284.07 L80.48,284.07 L80.62,284.07 L80.75,284.07 L80.89,284.07 L81.03,284.07 L81.16,284.07 L81.30,284.07 L81.43,284.07 L81.57,284.07 L81.71,284.07 L81.84,284.07 L81.98,284.07 L82.12,284.07 L82.25,284.07 L82.39,284.07 L82.52,284.07 L82.66,284.07 L82.80,284.07 L82.93,284.07 L83.07,284.07 L83.20,284.07 L83.34,284.07 L83.48,284.07 L83.61,284.07 L83.75,284.07 L83.89,284.07 L84.02,284.07 L84.16,284.07 L84.29,284.07 L84.43,284.06 L84.57,284.06 L84.70,284.06 L84.84,284.06 L84.98,284.06 L85.11,284.06 L85.25,284.06 L85.38,284.06 L85.52,284.06 L85.66,284.06 L85.79,284.06 L85.93,284.06 L86.07,284.06 L86.20,284.06 L86.34,284.06 L86.47,284.06 L86.61,284.06 L86.75,284.06 L86.88,284.06 L87.02,284.06 L87.16,284.06 L87.29,284.06 L87.43,284.06 L87.56,284.06 L87.70,284.06 L88.79,284.06 L89.89,284.06 L90.98,284.05 L92.07,284.05 L93.16,284.05 L94.26,284.05 L95.35,284.05 L96.44,284.05 L97.54,284.05 L98.63,284.05 L99.72,284.05 L100.82,284.05 L101.91,284.04 L103.00,284.04 L104.09,284.04 L105.19,284.04 L106.28,284.04 L107.37,284.04 L108.47,284.04 L109.56,284.04 L110.65,284.04 L111.75,284.04 L112.84,284.04 L113.93,284.04 L115.02,284.04 L116.12,284.04 L117.21,284.04 L118.30,284.04 L119.40,284.03 L120.49,284.03 L121.58,284.03 L122.68,284.03 L123.77,284.03 L124.86,284.03 L125.95,284.03 L127.05,284.03 L128.14,284.03 L129.23,284.03 L130.33,284.03 L131.42,284.03 L132.51,284.03 L133.61,284.03 L134.70,284.03 L135.79,284.03 L136.88,284.03 L137.98,284.03 L139.07,284.03 L140.16,284.03 L141.26,284.03 L142.35,284.03 L143.44,284.03 L144.54,284.03 L145.63,284.03 L146.72,284.03 L147.81,284.03 L148.91,284.03 L150.00,284.03 L151.09,284.03 L152.19,284.03 L153.28,284.03 L154.37,284.03 L155.47,284.03 L156.56,284.03 L157.65,284.03 L158.74,284.03 L159.84,284.03 L160.93,284.03 L162.02,284.03 L163.12,284.03 L164.21,284.03 L165.30,284.03 L166.40,284.03 L167.49,284.03 L168.58,284.02 L169.67,284.02 L170.77,284.02 L171.86,284.02 L172.95,284.02 L174.05,284.02 L175.14,284.02 L176.23,284.02 L177.33,284.02 L178.42,284.02 L179.51,284.02 L180.60,284.02 L181.70,284.02 L182.79,284.02 L183.88,284.02 L184.98,284.02 L186.07,284.02 L187.16,284.02 L188.26,284.02 L189.35,284.02 L190.44,284.02 L191.53,284.02 L192.63,284.02 L193.72,284.02 L194.81,284.02 L195.91,284.02 L197.00,284.02 L198.09,284.02 L199.19,284.02 L200.28,284.02 L201.37,284.02 L202.46,284.02 L203.56,284.02 L204.65,284.02 L205.74,284.02 L206.84,284.02 L207.93,284.02 L209.02,284.02 L210.12,284.02 L211.21,284.02 L212.30,284.02 L213.39,284.02 L214.49,284.02 L215.58,284.02 L216.67,284.02 L217.77,284.02 L218.86,284.02 L219.95,284.02 L221.05,284.02 L222.14,284.02 L223.23,284.02 L224.32,284.02 L225.42,284.02 L226.51,284.02 L227.60,284.02 L228.70,284.02 L229.79,284.02 L230.88,284.02 L231.98,284.02 L233.07,284.02 L234.16,284.02 L235.25,284.02 L236.35,284.02 L237.44,284.02 L238.53,284.02 L239.63,284.02 L240.72,284.02 L241.81,284.02 L242.91,284.02 L244.00,284.02 L245.09,284.02 L246.18,284.02 L247.28,284.02 L248.37,284.02 L249.46,284.02 L250.56,284.02 L251.65,284.02 L252.74,284.02 L253.84,284.02 L254.93,284.02 L256.02,284.02 L257.11,284.02 L258.21,284.02 L259.30,284.02 L260.39,284.02 L261.49,284.02 L262.58,284.02 L263.67,284.02 L264.77,284.02 L265.86,284.02 L266.95,284.02 L268.04,284.02 L269.14,284.02 L270.23,284.02 L271.32,284.02 L272.42,284.02 L273.51,284.02 L274.60,284.02 L275.70,284.02 L276.79,284.02 L277.88,284.02 L278.97,284.02 L280.07,284.02 L281.16,284.02 L282.25,284.02 L283.35,284.02 L284.44,284.02 L285.53,284.02 L286.63,284.02 L287.72,284.02 L288.81,284.02 L289.90,284.02 L291.00,284.02 L292.09,284.02 L293.18,284.02 L294.28,284.02 L295.37,284.02 L296.46,284.02 L297.56,284.02 L298.65,284.02 L299.74,284.02 L300.83,284.02 L301.93,284.02 L303.02,284.02 L304.11,284.02 L305.21,284.02 L306.30,284.02 L307.39,284.02 L308.49,284.02 L309.58,284.02 L310.67,284.02 L311.76,284.02 L312.86,284.02 L313.95,284.02 L315.04,284.02 L316.14,284.02 L317.23,284.02 L318.32,284.02 L319.42,284.02 L320.51,284.02 L321.60,284.02 L322.69,284.02 L323.79,284.02 L324.88,284.02 L325.97,284.02 L327.07,284.02 L328.16,284.02 L329.25,284.02 L330.35,284.02 L331.44,284.02 L332.53,284.02 L333.62,284.02 L334.72,284.02 L335.81,284.02 L336.90,284.02 L338.00,284.02 L339.09,284.02 L340.18,284.02 L341.28,284.02 L342.37,284.02 L343.46,284.02 L344.55,284.02 L345.65,284.02 L346.74,284.02 L347.83,284.02 L348.93,284.02 L350.02,284.02 L351.11,284.02 L352.21,284.02 L353.30,284.02 L354.39,284.02 L355.48,284.02 L356.58,284.02 L357.67,284.02 L358.76,284.02 L359.86,284.02 L360.95,284.02 L362.04,284.02 L363.14,284.02 L364.23,284.02 L365.32,284.02 L366.41,284.02 L367.51,284.02 L368.60,284.02 L369.69,284.02 L370.79,284.02 L371.88,284.02 L372.97,284.02 L374.07,284.02 L375.16,284.02 L376.25,284.02 L377.34,284.02 L378.44,284.02 L379.53,284.02 L380.62,284.02 L381.72,284.02 L382.81,284.02 L383.90,284.02 L385.00,284.02 L386.09,284.02 L387.18,284.02 L388.27,284.02 L389.37,284.02 L390.46,284.02 L391.55,284.02 L392.65,284.02 L393.74,284.02 L394.83,284.02 L395.93,284.02 L397.02,284.02 L398.11,284.02 L399.20,284.02 L400.30,284.02 L401.39,284.02 L402.48,284.02 L403.58,284.02 L404.67,284.02 L405.76,284.02 L406.86,284.02 L407.95,284.02 L409.04,284.02 L410.13,284.02 L411.23,284.02 L412.32,284.02 L413.41,284.02 L414.51,284.02" stroke="#ff5050" stroke-width="1.9" stroke-dasharray="4.2 2.2" stroke-dashoffset="1.0"/>
</g>
<g stroke="#000" stroke-width="1.2" fill="none">
<path d="M25.30,296.70h2.9M421.65,296.70h-2.9"/><path d="M25.30,289.35h5.0M421.65,289.35h-5.0"/><path d="M25.30,282.00h2.9M421.65,282.00h-2.9"/><path d="M25.30,274.64h2.9M421.65,274.64h-2.9"/><path d="M25.30,267.29h2.9M421.65,267.29h-2.9"/><path d="M25.30,259.93h2.9M421.65,259.93h-2.9"/><path d="M25.30,252.58h5.0M421.65,252.58h-5.0"/><path d="M25.30,245.23h2.9M421.65,245.23h-2.9"/><path d="M25.30,237.87h2.9M421.65,237.87h-2.9"/><path d="M25.30,230.52h2.9M421.65,230.52h-2.9"/><path d="M25.30,223.16h2.9M421.65,223.16h-2.9"/><path d="M25.30,215.81h5.0M421.65,215.81h-5.0"/><path d="M25.30,208.46h2.9M421.65,208.46h-2.9"/><path d="M25.30,201.10h2.9M421.65,201.10h-2.9"/><path d="M25.30,193.75h2.9M421.65,193.75h-2.9"/><path d="M25.30,186.39h2.9M421.65,186.39h-2.9"/><path d="M25.30,179.04h5.0M421.65,179.04h-5.0"/><path d="M25.30,171.69h2.9M421.65,171.69h-2.9"/><path d="M25.30,164.33h2.9M421.65,164.33h-2.9"/><path d="M25.30,156.98h2.9M421.65,156.98h-2.9"/><path d="M25.30,149.62h2.9M421.65,149.62h-2.9"/><path d="M25.30,142.27h5.0M421.65,142.27h-5.0"/><path d="M25.30,134.92h2.9M421.65,134.92h-2.9"/><path d="M25.30,127.56h2.9M421.65,127.56h-2.9"/><path d="M25.30,120.21h2.9M421.65,120.21h-2.9"/><path d="M25.30,112.85h2.9M421.65,112.85h-2.9"/><path d="M25.30,105.50h5.0M421.65,105.50h-5.0"/><path d="M25.30,98.15h2.9M421.65,98.15h-2.9"/><path d="M25.30,90.79h2.9M421.65,90.79h-2.9"/><path d="M25.30,83.44h2.9M421.65,83.44h-2.9"/><path d="M25.30,76.08h2.9M421.65,76.08h-2.9"/><path d="M25.30,68.73h5.0M421.65,68.73h-5.0"/><path d="M25.30,61.38h2.9M421.65,61.38h-2.9"/><path d="M25.30,54.02h2.9M421.65,54.02h-2.9"/><path d="M25.30,46.67h2.9M421.65,46.67h-2.9"/><path d="M25.30,39.31h2.9M421.65,39.31h-2.9"/><path d="M25.30,31.96h5.0M421.65,31.96h-5.0"/><path d="M33.35,303.15v-5.0M33.35,25.65v5.0"/><path d="M44.22,303.15v-2.9M44.22,25.65v2.9"/><path d="M55.09,303.15v-2.9M55.09,25.65v2.9"/><path d="M65.96,303.15v-2.9M65.96,25.65v2.9"/><path d="M76.83,303.15v-2.9M76.83,25.65v2.9"/><path d="M87.70,303.15v-5.0M87.70,25.65v5.0"/><path d="M98.57,303.15v-2.9M98.57,25.65v2.9"/><path d="M109.44,303.15v-2.9M109.44,25.65v2.9"/><path d="M120.31,303.15v-2.9M120.31,25.65v2.9"/><path d="M131.18,303.15v-2.9M131.18,25.65v2.9"/><path d="M142.05,303.15v-5.0M142.05,25.65v5.0"/><path d="M152.92,303.15v-2.9M152.92,25.65v2.9"/><path d="M163.79,303.15v-2.9M163.79,25.65v2.9"/><path d="M174.66,303.15v-2.9M174.66,25.65v2.9"/><path d="M185.53,303.15v-2.9M185.53,25.65v2.9"/><path d="M196.40,303.15v-5.0M196.40,25.65v5.0"/><path d="M207.27,303.15v-2.9M207.27,25.65v2.9"/><path d="M218.14,303.15v-2.9M218.14,25.65v2.9"/><path d="M229.01,303.15v-2.9M229.01,25.65v2.9"/><path d="M239.88,303.15v-2.9M239.88,25.65v2.9"/><path d="M250.75,303.15v-5.0M250.75,25.65v5.0"/><path d="M261.62,303.15v-2.9M261.62,25.65v2.9"/><path d="M272.49,303.15v-2.9M272.49,25.65v2.9"/><path d="M283.36,303.15v-2.9M283.36,25.65v2.9"/><path d="M294.23,303.15v-2.9M294.23,25.65v2.9"/><path d="M305.10,303.15v-5.0M305.10,25.65v5.0"/><path d="M315.97,303.15v-2.9M315.97,25.65v2.9"/><path d="M326.84,303.15v-2.9M326.84,25.65v2.9"/><path d="M337.71,303.15v-2.9M337.71,25.65v2.9"/><path d="M348.58,303.15v-2.9M348.58,25.65v2.9"/><path d="M359.45,303.15v-5.0M359.45,25.65v5.0"/><path d="M370.32,303.15v-2.9M370.32,25.65v2.9"/><path d="M381.19,303.15v-2.9M381.19,25.65v2.9"/><path d="M392.06,303.15v-2.9M392.06,25.65v2.9"/><path d="M402.93,303.15v-2.9M402.93,25.65v2.9"/><path d="M413.80,303.15v-5.0M413.80,25.65v5.0"/>
</g>
<rect x="25.3" y="25.65" width="396.34999999999997" height="277.5" fill="none" stroke="#000" stroke-width="1.4"/>
<g font-size="15.6px" fill="#000"><text x="22.2" y="295" text-anchor="end">0.0</text><text x="22.2" y="258" text-anchor="end">0.1</text><text x="22.2" y="222" text-anchor="end">0.2</text><text x="22.2" y="185" text-anchor="end">0.3</text><text x="22.2" y="148" text-anchor="end">0.4</text><text x="22.2" y="111" text-anchor="end">0.5</text><text x="22.2" y="75" text-anchor="end">0.6</text><text x="22.2" y="38" text-anchor="end">0.7</text><text x="33.45" y="321" text-anchor="middle">0.0</text><text x="87.80" y="321" text-anchor="middle">0.1</text><text x="142.15" y="321" text-anchor="middle">0.2</text><text x="196.50" y="321" text-anchor="middle">0.3</text><text x="250.85" y="321" text-anchor="middle">0.4</text><text x="305.20" y="321" text-anchor="middle">0.5</text><text x="359.55" y="321" text-anchor="middle">0.6</text><text x="413.90" y="321" text-anchor="middle">0.7</text></g>
<text transform="translate(223.6,17) scale(0.972,1)" font-size="19.7px" text-anchor="middle" fill="#000">(a) Energetic coherence and power</text>
<text x="224.0" y="347.1" font-size="17px" font-style="italic" text-anchor="middle" fill="#000">α</text>
<g fill="none">
<path d="M278.2,61.4H299.8" stroke="#0000a8" stroke-width="1.9"/>
<path d="M279,92.0H299.0" stroke="#0000a8" stroke-width="1.9" stroke-dasharray="4.4 2.0"/>
<path d="M278.2,122.6H299.8" stroke="#ff5050" stroke-width="1.9"/>
<path d="M279,153.2H299.0" stroke="#ff5050" stroke-width="1.9" stroke-dasharray="4.4 2.0"/>
</g>
<g fill="#000">
<text transform="translate(305.4,65) scale(0.80,1)" font-size="19px" font-style="italic">C</text><text x="316.0" y="68.2" font-size="12.9px">C</text>
<text transform="translate(305.4,97) scale(0.80,1)" font-size="19px" font-style="italic">C</text><text x="316.5" y="99.0" font-size="12.3px">I</text>
<text x="317.65" y="128.95" font-size="12.9px">C</text>
<text x="318.05" y="159.6" font-size="12.3px">I</text>
</g>
<g fill="none" stroke="#000" stroke-width="1.4" stroke-linecap="round" stroke-linejoin="round">
<path d="M305.4,119.6C305.2,117.6 306.7,115.7 309.4,114.5C312.0,113.5 315.0,113.6 316.5,115.1C317.8,116.6 317.3,118.8 315.3,120.2C313.5,121.4 310.8,121.6 308.9,120.6M310.2,114.9C309.9,117.6 309.3,120.4 308.4,122.8C307.8,124.3 307.3,125.4 306.5,126.2"/>
<path transform="translate(0,30.4)" d="M305.4,119.6C305.2,117.6 306.7,115.7 309.4,114.5C312.0,113.5 315.0,113.6 316.5,115.1C317.8,116.6 317.3,118.8 315.3,120.2C313.5,121.4 310.8,121.6 308.9,120.6M310.2,114.9C309.9,117.6 309.3,120.4 308.4,122.8C307.8,124.3 307.3,125.4 306.5,126.2"/>
</g>
</svg>
</body></html>
